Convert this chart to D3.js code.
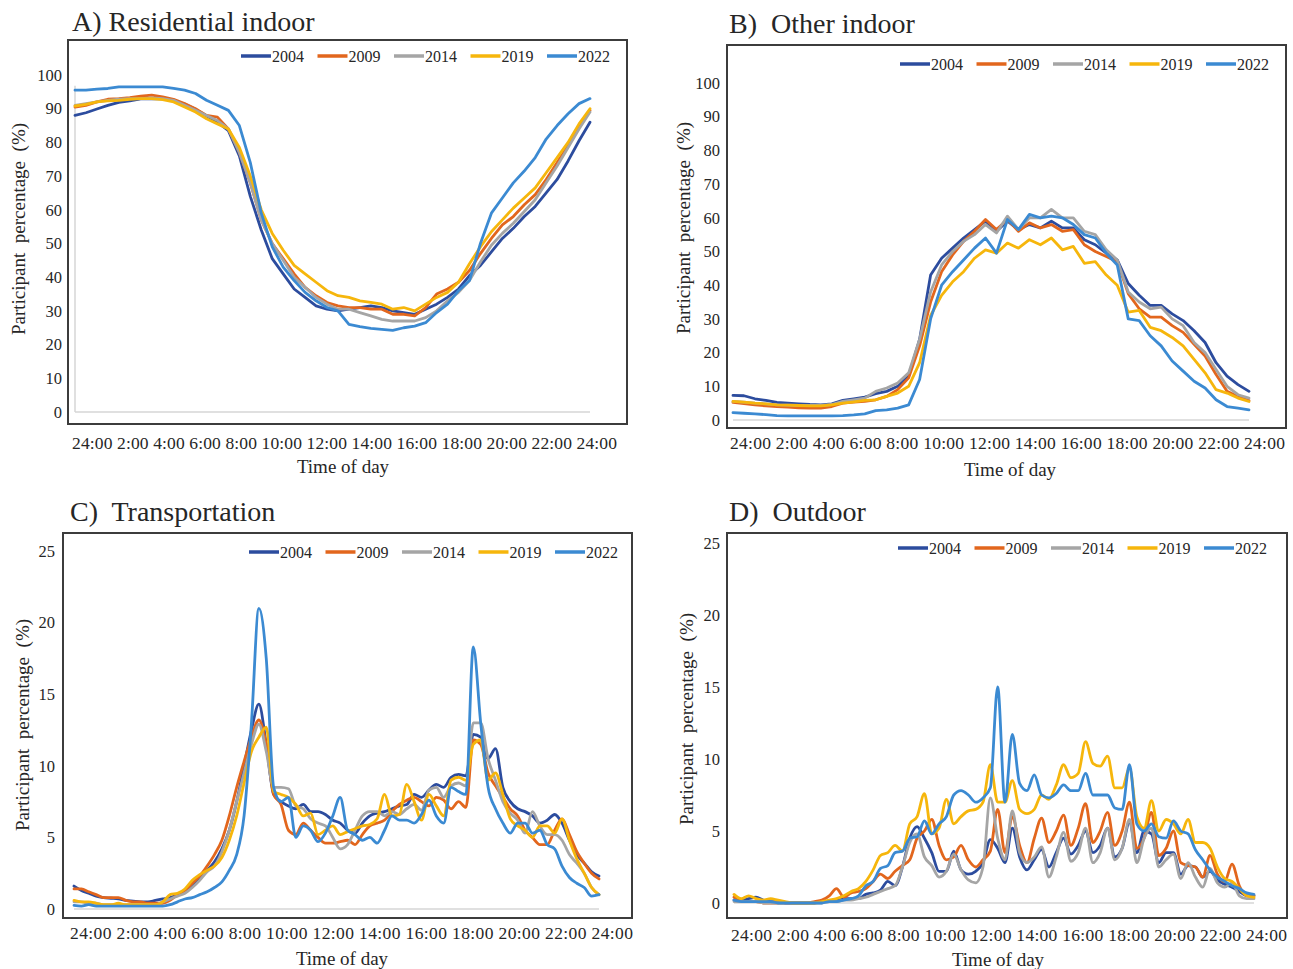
<!DOCTYPE html>
<html>
<head>
<meta charset="utf-8">
<script src="https://cdn.jsdelivr.net/npm/d3@7"></script>
<style>
  body { margin: 0; background: #fff; }
  svg text { font-family: "Liberation Serif", "Times New Roman", serif; fill: #262626; }
</style>
</head>
<body>
<svg id="chart" width="1293" height="969"></svg>
<script>
// series names + colours (same in every panel)
const years = ["2004", "2009", "2014", "2019", "2022"];
const yearColors = ["#2c4c9e", "#e2661d", "#a5a5a5", "#f6b60c", "#3b8ad2"];

// the x labels are a typed row under each plot, not real ticks
const timeLabels = ["24:00", "2:00", "4:00", "6:00", "8:00", "10:00", "12:00",
                    "14:00", "16:00", "18:00", "20:00", "22:00", "24:00"];
const pctTicks100 = [0, 10, 20, 30, 40, 50, 60, 70, 80, 90, 100];
const pctTicks25 = [0, 5, 10, 15, 20, 25];

// A) residential indoor - one value every 30 min from 0:00
const resid2004 = [88, 88.8, 89.9, 91, 91.9, 92.3, 92.9, 93, 92.9, 92.4, 91.4, 89.8,
  87.9, 86, 83.5, 76, 64, 54, 45.5, 41, 36.5, 34, 31.5, 30.5,
  30, 30.5, 31, 31.5, 31, 30, 29.5, 29, 30.5, 32, 34, 36.5,
  40.5, 43.5, 47.5, 51.5, 54.5, 58, 61, 65, 69, 74.5, 80.5, 86];
const resid2009 = [90.5, 91, 92, 92.8, 93, 93.3, 93.7, 94, 93.5, 92.8, 91.5, 90,
  88, 87.5, 84, 77, 68, 57, 50, 45.5, 41, 37, 34.5, 32.5,
  31.5, 31, 31, 30.5, 30.5, 29, 29, 28.5, 31, 35, 36.5, 38.5,
  42, 47, 51.5, 55.5, 58, 61.5, 64.5, 69, 74, 79, 84.5, 89.5];
const resid2014 = [91, 91.5, 92, 92.5, 92.8, 93, 93, 93.2, 93, 92.5, 91, 89.5,
  88, 86.5, 84, 77, 68, 57, 50, 45, 40, 37, 34, 32,
  30.5, 30.5, 29.5, 28.5, 27.5, 27, 27, 27, 28, 30, 33, 35.5,
  39, 44.5, 49.5, 53, 56, 59.5, 63, 68, 73, 78.5, 84, 89];
const resid2019 = [90.8, 91.3, 92, 92.3, 92.5, 92.8, 93, 93, 92.7, 92, 90.5, 89,
  87, 85.5, 84, 78.5, 70, 60, 53, 48, 43.5, 41, 38.5, 36,
  34.5, 34, 33, 32.5, 32, 30.5, 31, 30, 32, 34, 35.5, 38.5,
  44, 49, 53.5, 57, 60.5, 63.5, 66.5, 71, 75.5, 80, 85.5, 90];
const resid2022 = [95.5, 95.5, 95.8, 96, 96.5, 96.5, 96.5, 96.5, 96.5, 96, 95.5, 94.5,
  92.5, 91, 89.5, 85, 74, 59, 49, 43, 39, 35.5, 33, 31,
  30, 26, 25.3, 24.8, 24.5, 24.2, 25, 25.5, 26.5, 29.5, 32, 36,
  39, 50, 59, 63.5, 68, 71.5, 75.5, 81, 85, 88.5, 91.5, 93];

// B) other indoor - every 30 min
const other2004 = [7.3, 7.2, 6.3, 5.8, 5.2, 5.0, 4.8, 4.6, 4.5, 4.8, 5.8, 6.3,
  6.8, 7.8, 8.5, 10, 13, 24, 43, 48, 51, 54, 56.5, 59,
  56, 59, 56.5, 58, 57, 59, 57, 57, 53.5, 52, 49.5, 47.5,
  40.5, 37, 34, 34, 31.5, 29.5, 26.5, 23, 17, 13, 10.5, 8.5];
const other2009 = [5.2, 4.9, 4.5, 4.2, 4.0, 3.8, 3.6, 3.5, 3.5, 4.0, 5.0, 5.3,
  5.5, 6.0, 7.0, 9.0, 12.5, 22, 35, 44, 49, 53, 56, 59.5,
  56.5, 59.5, 56, 58.5, 57, 58, 56, 56.5, 52, 50, 48.5, 47,
  37.5, 33, 30.5, 30.5, 28, 26, 22.5, 19, 13.5, 8.5, 7, 5.8];
const other2014 = [5.5, 5.3, 5.0, 4.8, 4.5, 4.4, 4.3, 4.3, 4.3, 4.6, 5.5, 6.0,
  6.5, 8.5, 9.5, 11, 14, 24, 38, 46, 50, 53, 55, 58,
  55.5, 60.5, 56.5, 60, 60, 62.5, 60, 60, 56, 55, 50.5, 47.5,
  38, 35, 33, 33.5, 30, 28, 23, 20, 15, 10, 7.5, 6.5];
const other2019 = [5.5, 5.3, 5.0, 4.8, 4.5, 4.4, 4.3, 4.2, 4.2, 4.5, 5.0, 5.4,
  5.8, 6.0, 7.0, 8.0, 10, 17, 31, 37, 41, 44, 48, 50.5,
  49.5, 52.5, 51, 53.5, 52, 54, 50.5, 51.5, 46.5, 47, 43, 40,
  32, 32.5, 27.5, 26.5, 24.5, 22, 18, 14, 9, 8, 6.5, 5.5];
const other2022 = [2.2, 2.0, 1.8, 1.6, 1.3, 1.2, 1.2, 1.2, 1.2, 1.2, 1.3, 1.5,
  1.8, 2.8, 3.0, 3.5, 4.5, 12, 30, 40, 44, 47.5, 51, 54,
  49.5, 59.5, 56.5, 61, 60, 60.5, 60, 58, 55, 54, 49.5, 46,
  30, 29.5, 25, 22, 17.5, 14.5, 11.5, 9.5, 6, 4, 3.5, 3];

// C) transportation - every 20 min
const trans2004 = [1.6, 1.3, 1.1, 0.9, 0.8, 0.75, 0.7, 0.6, 0.55, 0.5, 0.5, 0.6,
  0.7, 0.8, 1.0, 1.3, 1.7, 2.2, 2.7, 3.3, 4.2, 5.5, 7.5, 10,
  12.5, 14.3, 11.5, 8, 7.5, 7.2, 7, 7.3, 6.8, 6.8, 6.6, 6.2,
  6, 5.5, 5.3, 6, 6.5, 6.7, 6.8, 7, 7.2, 7.3, 8, 7.8,
  8.3, 8.7, 8.5, 9.2, 9.4, 9.3, 12.2, 12, 10.5, 11.2, 8.5, 7.5,
  7, 6.8, 6.5, 6, 6.2, 6.6, 6, 4.8, 3.8, 3.2, 2.6, 2.3];
const trans2009 = [1.4, 1.4, 1.2, 1.0, 0.8, 0.8, 0.8, 0.6, 0.5, 0.5, 0.4, 0.4,
  0.4, 0.6, 1.0, 1.3, 1.8, 2.3, 3.0, 3.8, 4.8, 6.5, 8.5, 10.3,
  12, 13.2, 11.5, 8, 7.3, 5.5, 5.2, 6, 5.5, 5, 4.6, 4.6,
  4.7, 4.8, 4.5, 5.2, 5.8, 6, 6.2, 6.8, 7.3, 7.6, 7.8, 7.5,
  7.2, 7.8, 7.6, 7, 7.5, 7.1, 11.8, 11.5, 9.5, 8.6, 7.8, 7,
  6.5, 5.5, 5, 4.5, 4.5, 5.5, 6.3, 5.2, 4, 3.2, 2.5, 2.1];
const trans2014 = [0.5, 0.5, 0.4, 0.4, 0.3, 0.3, 0.3, 0.3, 0.3, 0.3, 0.3, 0.3,
  0.5, 0.7, 0.9, 1.1, 1.5, 2.0, 2.6, 3.0, 4.0, 5.5, 7.5, 9.5,
  11.5, 12.9, 11, 8.5, 8.5, 8.4, 7.2, 7, 6.3, 6, 5.8, 5,
  4.2, 4.5, 5.5, 6.5, 6.8, 6.8, 6.5, 6.8, 6.6, 7, 7.3, 6.9,
  8.3, 8.5, 7.8, 8.6, 8.8, 8.6, 13, 13, 10.5, 9, 7.5, 6.7,
  6.2, 5.3, 6.8, 5.8, 5.2, 5.2, 4.8, 3.8, 3.2, 2.5, 1.5, 1.0];
const trans2019 = [0.6, 0.5, 0.5, 0.4, 0.3, 0.3, 0.4, 0.3, 0.3, 0.3, 0.3, 0.3,
  0.5, 1.0, 1.1, 1.4, 2.0, 2.4, 2.7, 3.0, 3.6, 4.8, 6.5, 8.8,
  11, 12, 12.7, 8.2, 8, 7.8, 7.3, 6.5, 6.7, 5.2, 5.5, 5.8,
  5.2, 5.4, 5.6, 5.8, 5.9, 6.3, 8, 6.5, 6.6, 8.7, 7.5, 6.2,
  8, 7.2, 6.5, 9, 9.2, 9, 11.5, 11.8, 9, 9.5, 8, 6.3,
  5.8, 5.5, 5, 5.8, 5.8, 5.3, 6.3, 4.8, 3.5, 2.5, 1.5, 1.0];
const trans2022 = [0.25, 0.2, 0.3, 0.2, 0.2, 0.2, 0.2, 0.2, 0.2, 0.2, 0.2, 0.2,
  0.2, 0.3, 0.5, 0.7, 0.8, 1.0, 1.2, 1.5, 1.9, 2.7, 3.8, 6.5,
  13, 21, 17.5, 8.5, 7.5, 7.8, 5, 5.8, 5.5, 4.7, 5.3, 6.5,
  7.8, 5.5, 5.2, 4.8, 5, 4.6, 5.5, 6.5, 6.2, 6.2, 6, 6.6,
  7.6, 6.5, 6, 8.5, 8.2, 8, 18.3, 13, 8.5, 7, 6, 5.3,
  6, 6, 5.3, 5.5, 4.5, 4.2, 3, 2.2, 1.8, 1.5, 0.9, 1.0];

// D) outdoor - every 20 min
const out2004 = [0.2, 0.2, 0.3, 0.4, 0.2, 0.1, 0.1, 0, 0, 0, 0, 0,
  0.1, 0.1, 0.2, 0.3, 0.3, 0.3, 0.6, 0.7, 0.9, 1.5, 1.2, 2.5,
  4.5, 5.3, 4.5, 3.5, 2.2, 2.2, 3.6, 2.3, 2.0, 2.2, 2.8, 4.4,
  3.8, 2.8, 5.2, 3.2, 2.3, 3.0, 3.7, 2.5, 3.5, 4.5, 3.4, 4.0,
  5.0, 3.5, 4.0, 5.2, 3.2, 3.8, 5.6, 3.5, 5.0, 4.8, 2.8, 3.5,
  3.5, 2.0, 2.6, 2.5, 1.8, 2.2, 1.6, 1.3, 1.1, 0.8, 0.5, 0.5];
const out2009 = [0.4, 0.1, 0.1, 0.1, 0, 0, 0, 0, 0, 0, 0, 0.1,
  0.2, 0.5, 1.0, 0.4, 0.7, 0.8, 1.0, 1.5, 2.0, 1.7, 2.2, 2.6,
  3.0, 4.5, 5.0, 5.8, 4.0, 3.0, 3.2, 4.0, 3.0, 2.5, 3.0, 3.6,
  6.5, 3.5, 6.0, 4.0, 2.8, 4.5, 5.9, 4.2, 5.0, 6.1, 4.0, 5.2,
  6.9, 4.2, 5.0, 6.3, 4.0, 5.0, 7.0, 3.8, 4.5, 6.3, 3.3, 3.8,
  5.0, 2.8, 2.6, 2.5, 1.8, 3.3, 2.0, 1.5, 2.7, 1.2, 0.5, 0.5];
const out2014 = [0.1, 0.1, 0.1, 0.1, 0, 0, 0, 0, 0, 0, 0, 0,
  0, 0.1, 0.1, 0.2, 0.2, 0.3, 0.4, 0.6, 0.8, 1.0, 1.2, 2.5,
  4.2, 4.8, 3.2, 2.6, 1.8, 2.2, 3.4, 2.3, 1.6, 1.4, 2.5, 7.3,
  4.5, 3.0, 6.4, 3.5, 2.8, 3.2, 3.9, 1.8, 3.2, 4.9, 2.9, 3.5,
  5.2, 2.8, 3.5, 5.2, 3.0, 3.8, 5.8, 2.8, 4.5, 5.2, 2.5, 3.0,
  3.4, 1.7, 2.8, 1.8, 1.1, 2.4, 1.4, 1.1, 1.4, 0.5, 0.3, 0.3];
const out2019 = [0.6, 0.3, 0.5, 0.3, 0.2, 0.3, 0.2, 0.1, 0, 0, 0, 0,
  0.1, 0.2, 0.3, 0.5, 0.8, 1.0, 1.5, 2.3, 3.3, 3.5, 4.0, 3.6,
  5.5, 6.0, 7.6, 4.8, 5.2, 7.2, 5.5, 6.0, 6.4, 6.5, 7.0, 9.6,
  7.0, 7.0, 8.5, 6.5, 6.2, 6.5, 7.5, 7.2, 8.2, 9.6, 8.7, 9.0,
  11.2, 9.7, 9.5, 10.2, 8.0, 8.0, 9.4, 6.0, 5.2, 7.1, 5.0, 5.8,
  5.5, 4.8, 5.8, 4.2, 4.2, 3.8, 2.5, 1.7, 1.5, 1.0, 0.5, 0.4];
const out2022 = [0.2, 0.1, 0.1, 0.1, 0.1, 0.1, 0, 0, 0, 0, 0, 0,
  0, 0.1, 0.1, 0.2, 0.3, 0.5, 1.2, 1.5, 2.4, 2.6, 3.5, 3.6,
  4.5, 4.6, 5.7, 4.8, 5.5, 6.0, 7.5, 7.8, 7.5, 7.0, 7.3, 8.0,
  15.0, 7.0, 11.7, 8.3, 7.8, 8.9, 7.5, 7.3, 7.6, 8.2, 7.8, 7.8,
  9.0, 7.5, 7.5, 7.5, 6.6, 6.5, 9.6, 5.5, 5.0, 5.5, 4.6, 4.5,
  5.7, 5.0, 4.8, 3.7, 3.0, 2.3, 1.8, 1.5, 1.2, 1.0, 0.7, 0.6];

// layout of the four panels (pixel boxes)
const panels = [
  { title: "A) Residential indoor", titleX: 72, titleY: 31,
    box: [68, 40, 627, 424], xr: [75, 590], yr: [412, 75], yMax: 100, ticks: pctTicks100,
    tickPad: 13, ylabX: 18, ylabY: 229, rowY: 449, row: [72, 617], todX: 343, todY: 473,
    legX: 241, legY: 56, yAxisTop: 96.8, curve: d3.curveLinear,
    series: [resid2004, resid2009, resid2014, resid2019, resid2022] },
  { title: "B)  Other indoor", titleX: 729, titleY: 33,
    box: [727, 45, 1286, 428], xr: [733, 1249], yr: [420, 83], yMax: 100, ticks: pctTicks100,
    tickPad: 13, ylabX: 683, ylabY: 228, rowY: 449, row: [730, 1285], todX: 1010, todY: 476,
    legX: 900, legY: 64, curve: d3.curveLinear,
    series: [other2004, other2009, other2014, other2019, other2022] },
  { title: "C)  Transportation", titleX: 70, titleY: 521,
    box: [63, 533, 632, 918], xr: [74, 599], yr: [909, 551], yMax: 25, ticks: pctTicks25,
    tickPad: 19, ylabX: 22, ylabY: 725, rowY: 939, row: [70, 633], todX: 342, todY: 965,
    legX: 249, legY: 552, curve: d3.curveMonotoneX,
    series: [trans2004, trans2009, trans2014, trans2019, trans2022] },
  { title: "D)  Outdoor", titleX: 729, titleY: 521,
    box: [727, 533, 1287, 918], xr: [734, 1254], yr: [903, 543], yMax: 25, ticks: pctTicks25,
    tickPad: 14, ylabX: 686, ylabY: 719, rowY: 941, row: [731, 1287], todX: 998, todY: 966,
    legX: 898, legY: 548, curve: d3.curveMonotoneX,
    series: [out2004, out2009, out2014, out2019, out2022] }
];

const svg = d3.select("#chart");

panels.forEach(function (p) {
  const n = p.series[0].length;
  p.series.forEach(function (s) {
    if (s.length !== n) throw new Error(p.title + ": series length " + s.length + " != " + n);
  });

  const x = d3.scaleLinear().domain([0, n - 1]).range(p.xr);
  const y = d3.scaleLinear().domain([0, p.yMax]).range(p.yr);
  const g = svg.append("g");

  // title
  g.append("text")
    .attr("x", p.titleX)
    .attr("y", p.titleY)
    .style("font-size", "28px")
    .style("white-space", "pre")
    .text(p.title);

  // frame
  g.append("rect")
    .attr("x", p.box[0])
    .attr("y", p.box[1])
    .attr("width", p.box[2] - p.box[0])
    .attr("height", p.box[3] - p.box[1])
    .attr("fill", "none")
    .attr("stroke", "#3c3c3c")
    .attr("stroke-width", 2);

  // light grey zero line (and the y axis stub in panel A)
  g.append("line")
    .attr("x1", x(0)).attr("x2", x(n - 1))
    .attr("y1", y(0)).attr("y2", y(0))
    .attr("stroke", "#d6d6d6")
    .attr("stroke-width", 1.5);
  if (p.yAxisTop) {
    g.append("line")
      .attr("x1", x(0)).attr("x2", x(0))
      .attr("y1", y(p.yAxisTop)).attr("y2", y(0))
      .attr("stroke", "#d6d6d6")
      .attr("stroke-width", 1.5);
  }

  // y axis labels only
  const ya = g.append("g")
    .attr("transform", "translate(" + x(0) + ",0)")
    .call(d3.axisLeft(y).tickValues(p.ticks).tickSize(0).tickPadding(p.tickPad));
  ya.select(".domain").remove();
  ya.selectAll("text")
    .style("font-size", "16.5px")
    .style("font-family", "'Liberation Serif', serif")
    .attr("fill", "#262626");

  // lines
  const line = d3.line()
    .x(function (d, i) { return x(i); })
    .y(function (d) { return y(d); })
    .curve(p.curve);

  g.selectAll("path.series")
    .data(p.series)
    .enter().append("path")
    .attr("class", "series")
    .attr("d", line)
    .attr("fill", "none")
    .attr("stroke", function (d, i) { return yearColors[i]; })
    .attr("stroke-width", 2.8)
    .attr("stroke-linejoin", "round")
    .attr("stroke-linecap", "round");

  // legend
  const leg = g.selectAll("g.leg")
    .data(years)
    .enter().append("g")
    .attr("class", "leg")
    .attr("transform", function (d, i) { return "translate(" + (p.legX + i * 76.5) + "," + p.legY + ")"; });
  leg.append("line")
    .attr("x1", 0).attr("x2", 30)
    .attr("stroke", function (d, i) { return yearColors[i]; })
    .attr("stroke-width", 3.5);
  leg.append("text")
    .attr("x", 31)
    .attr("dy", "0.35em")
    .style("font-size", "16px")
    .text(function (d) { return d; });

  // typed row of time labels under the frame
  g.append("text")
    .attr("x", p.row[0])
    .attr("y", p.rowY)
    .attr("textLength", p.row[1] - p.row[0])
    .attr("lengthAdjust", "spacing")
    .style("font-size", "17.5px")
    .text(timeLabels.join(" "));

  g.append("text")
    .attr("x", p.todX)
    .attr("y", p.todY)
    .attr("text-anchor", "middle")
    .style("font-size", "19px")
    .text("Time of day");

  g.append("text")
    .attr("transform", "translate(" + p.ylabX + "," + p.ylabY + ") rotate(-90)")
    .attr("text-anchor", "middle")
    .attr("dy", "0.35em")
    .style("font-size", "19px")
    .style("white-space", "pre")
    .text("Participant  percentage  (%)");
});
</script>
</body>
</html>
